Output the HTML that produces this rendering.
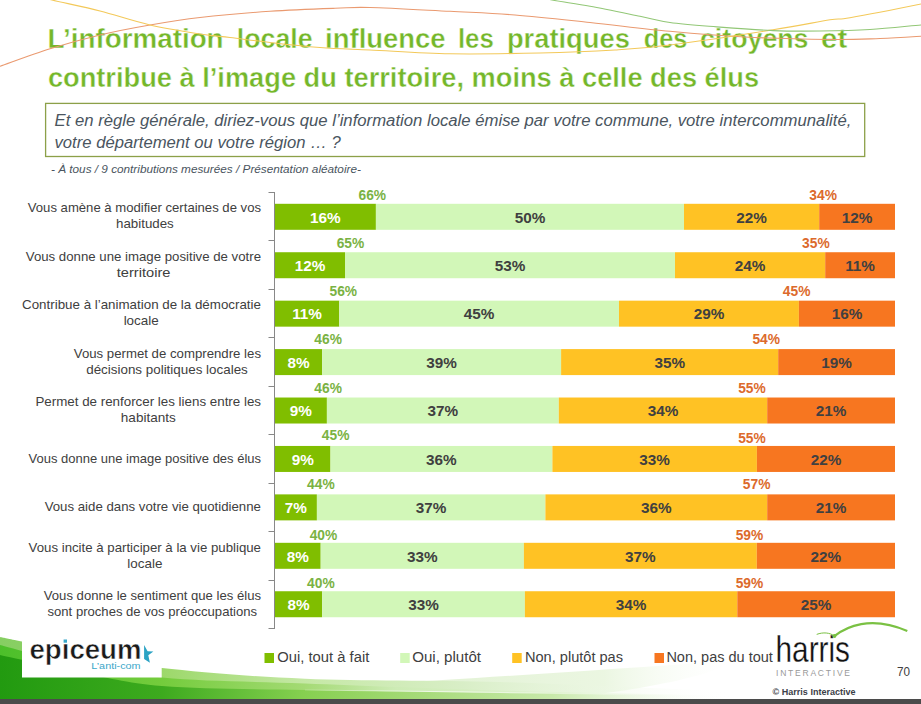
<!DOCTYPE html><html><head><meta charset="utf-8"><style>html,body{margin:0;padding:0;background:#fff;width:921px;height:704px;overflow:hidden}svg{position:absolute;left:0;top:0;font-family:"Liberation Sans",sans-serif}</style></head><body>
<svg width="921" height="704" viewBox="0 0 921 704">
<defs>
<linearGradient id="gtop" gradientUnits="userSpaceOnUse" x1="0" y1="0" x2="921" y2="0"><stop offset="0" stop-color="#86CE62"/><stop offset="0.176" stop-color="#9CD86A"/><stop offset="0.33" stop-color="#C5E8A5"/><stop offset="0.5" stop-color="#D8EEC6"/><stop offset="0.8" stop-color="#ffffff" stop-opacity="0"/></linearGradient>
<linearGradient id="gmid" gradientUnits="userSpaceOnUse" x1="0" y1="0" x2="921" y2="0"><stop offset="0" stop-color="#4CBF2A"/><stop offset="0.176" stop-color="#74CC3C"/><stop offset="0.33" stop-color="#A4DA74"/><stop offset="0.43" stop-color="#CDEBB5"/><stop offset="0.6" stop-color="#E0F2D0"/><stop offset="0.8" stop-color="#ffffff" stop-opacity="0"/></linearGradient>
<linearGradient id="gbase" gradientUnits="userSpaceOnUse" x1="0" y1="0" x2="921" y2="0"><stop offset="0" stop-color="#229A10"/><stop offset="0.176" stop-color="#3DAA1E"/><stop offset="0.33" stop-color="#86D050"/><stop offset="0.43" stop-color="#A0D870"/><stop offset="0.6" stop-color="#C8E9AA"/><stop offset="0.76" stop-color="#ffffff" stop-opacity="0"/></linearGradient>
<linearGradient id="gwedge" gradientUnits="userSpaceOnUse" x1="400" y1="0" x2="740" y2="0"><stop offset="0" stop-color="#DDF0CD" stop-opacity="0.9"/><stop offset="0.6" stop-color="#E6F4DA" stop-opacity="0.8"/><stop offset="1" stop-color="#ffffff" stop-opacity="0"/></linearGradient>
<linearGradient id="ghl" gradientUnits="userSpaceOnUse" x1="250" y1="0" x2="650" y2="0"><stop offset="0" stop-color="#ffffff" stop-opacity="0"/><stop offset="0.5" stop-color="#ffffff" stop-opacity="0.8"/><stop offset="1" stop-color="#ffffff" stop-opacity="0"/></linearGradient>
</defs>
<text x="47.5" y="48.1" font-size="28" font-weight="bold" fill="#74B72A" stroke="#fff" stroke-width="0.4" textLength="176.1" lengthAdjust="spacingAndGlyphs">L’information</text>
<text x="236.8" y="48.1" font-size="28" font-weight="bold" fill="#74B72A" stroke="#fff" stroke-width="0.4" textLength="75.8" lengthAdjust="spacingAndGlyphs">locale</text>
<text x="325.1" y="48.1" font-size="28" font-weight="bold" fill="#74B72A" stroke="#fff" stroke-width="0.4" textLength="120.5" lengthAdjust="spacingAndGlyphs">influence</text>
<text x="457.9" y="48.1" font-size="28" font-weight="bold" fill="#74B72A" stroke="#fff" stroke-width="0.4" textLength="35.9" lengthAdjust="spacingAndGlyphs">les</text>
<text x="506.9" y="48.1" font-size="28" font-weight="bold" fill="#74B72A" stroke="#fff" stroke-width="0.4" textLength="123.0" lengthAdjust="spacingAndGlyphs">pratiques</text>
<text x="643.8" y="48.1" font-size="28" font-weight="bold" fill="#74B72A" stroke="#fff" stroke-width="0.4" textLength="43.6" lengthAdjust="spacingAndGlyphs">des</text>
<text x="700.0" y="48.1" font-size="28" font-weight="bold" fill="#74B72A" stroke="#fff" stroke-width="0.4" textLength="108.5" lengthAdjust="spacingAndGlyphs">citoyens</text>
<text x="821.1" y="48.1" font-size="28" font-weight="bold" fill="#74B72A" stroke="#fff" stroke-width="0.4" textLength="26.1" lengthAdjust="spacingAndGlyphs">et</text>
<text x="47.9" y="86.5" font-size="28" font-weight="bold" fill="#74B72A" stroke="#fff" stroke-width="0.4" textLength="711.2" lengthAdjust="spacingAndGlyphs">contribue à l’image du territoire, moins à celle des élus</text>
<path d="M-10.0,70.0 C-8.3,69.4 -10.0,69.8 0.0,66.3 C10.0,62.8 33.3,54.0 50.0,48.8 C66.7,43.6 83.3,39.0 100.0,35.0 C116.7,31.0 133.3,27.9 150.0,25.0 C166.7,22.1 180.0,19.8 200.0,17.5 C220.0,15.2 247.5,12.8 270.0,11.3 C292.5,9.8 318.3,8.9 335.0,8.3 C351.7,7.7 350.8,7.0 370.0,7.5 C389.2,8.0 425.8,10.1 450.0,11.3 C474.2,12.6 491.7,13.1 515.0,15.0 C538.3,16.9 564.2,19.8 590.0,22.5 C615.8,25.2 644.2,28.9 670.0,31.3 C695.8,33.7 718.3,35.6 745.0,37.0 C771.7,38.4 807.5,39.2 830.0,39.5 C852.5,39.8 864.8,39.0 880.0,38.5 C895.2,38.0 911.8,36.8 921.0,36.2 C930.2,35.6 932.7,35.2 935.0,35.0" fill="none" stroke="#EA9A70" stroke-width="1.1"/>
<path d="M40.0,-4.0 C42.0,-3.3 42.0,-2.5 52.0,0.0 C62.0,2.5 83.7,6.8 100.0,11.0 C116.3,15.2 133.3,21.2 150.0,25.0 C166.7,28.8 186.7,31.9 200.0,34.0 C213.3,36.1 218.3,36.1 230.0,37.5 C241.7,38.9 255.0,40.8 270.0,42.5 C285.0,44.2 303.3,46.2 320.0,47.5 C336.7,48.8 348.3,49.0 370.0,50.0 C391.7,51.0 421.7,53.3 450.0,53.8 C478.3,54.3 512.5,53.6 540.0,53.0 C567.5,52.4 593.3,51.3 615.0,50.0 C636.7,48.7 643.7,48.4 670.0,45.0 C696.3,41.6 746.3,34.0 773.0,29.8 C799.7,25.6 817.2,21.8 830.0,19.8 C842.8,17.8 834.8,20.3 850.0,17.7 C865.2,15.1 906.8,6.9 921.0,4.0 C935.2,1.1 932.7,0.7 935.0,0.0" fill="none" stroke="#F3C95A" stroke-width="1.1"/>
<path d="M540.0,-4.0 C542.0,-3.3 543.7,-1.7 552.0,0.0 C560.3,1.7 575.3,3.6 590.0,6.3 C604.7,9.0 626.7,13.6 640.0,16.3 C653.3,19.0 657.2,20.7 670.0,22.5 C682.8,24.3 699.5,25.5 716.7,26.9 C733.9,28.2 755.8,29.9 773.0,30.6 C790.2,31.3 803.8,31.2 820.0,31.0 C836.2,30.8 853.2,30.5 870.0,29.5 C886.8,28.5 910.2,25.9 921.0,25.0 C931.8,24.1 932.7,24.2 935.0,24.0" fill="none" stroke="#92C776" stroke-width="1.1"/>
<rect x="45.6" y="103.4" width="819.1" height="53.1" fill="#fff" stroke="#8CA048" stroke-width="1.3"/>
<text x="54.5" y="126.4" font-size="15.6" font-style="italic" fill="#4A5560" textLength="796.9" lengthAdjust="spacingAndGlyphs">Et en règle générale, diriez-vous que l’information locale émise par votre commune, votre intercommunalité,</text>
<text x="54.5" y="148.0" font-size="15.6" font-style="italic" fill="#4A5560" textLength="286.2" lengthAdjust="spacingAndGlyphs">votre département ou votre région … ?</text>
<text x="51" y="172.9" font-size="11.7" font-style="italic" fill="#4A5560" textLength="309.9" lengthAdjust="spacingAndGlyphs">- À tous / 9 contributions mesurées / Présentation aléatoire-</text>
<path d="M274.5,192 V629" stroke="#888" stroke-width="1" fill="none"/>
<path d="M268.5,192.5 H274.5" stroke="#888" stroke-width="1" fill="none"/>
<path d="M268.5,240.5 H274.5" stroke="#888" stroke-width="1" fill="none"/>
<path d="M268.5,289.5 H274.5" stroke="#888" stroke-width="1" fill="none"/>
<path d="M268.5,337.5 H274.5" stroke="#888" stroke-width="1" fill="none"/>
<path d="M268.5,386.5 H274.5" stroke="#888" stroke-width="1" fill="none"/>
<path d="M268.5,434.5 H274.5" stroke="#888" stroke-width="1" fill="none"/>
<path d="M268.5,483.5 H274.5" stroke="#888" stroke-width="1" fill="none"/>
<path d="M268.5,531.5 H274.5" stroke="#888" stroke-width="1" fill="none"/>
<path d="M268.5,580.5 H274.5" stroke="#888" stroke-width="1" fill="none"/>
<path d="M268.5,628.5 H274.5" stroke="#888" stroke-width="1" fill="none"/>
<rect x="275.0" y="203.80" width="100.9" height="26" fill="#80BE00"/>
<rect x="375.9" y="203.80" width="308.1" height="26" fill="#D2F7B8"/>
<rect x="684.0" y="203.80" width="135.2" height="26" fill="#FFC224"/>
<rect x="819.2" y="203.80" width="75.8" height="26" fill="#F77620"/>
<text x="325.4" y="222.60" font-size="15.3" font-weight="bold" fill="#FFFFFF" text-anchor="middle">16%</text>
<text x="530.0" y="222.60" font-size="15.3" font-weight="bold" fill="#404040" text-anchor="middle">50%</text>
<text x="751.6" y="222.60" font-size="15.3" font-weight="bold" fill="#404040" text-anchor="middle">22%</text>
<text x="857.1" y="222.60" font-size="15.3" font-weight="bold" fill="#404040" text-anchor="middle">12%</text>
<rect x="275.0" y="252.23" width="70.0" height="26" fill="#80BE00"/>
<rect x="345.0" y="252.23" width="330.0" height="26" fill="#D2F7B8"/>
<rect x="675.0" y="252.23" width="150.2" height="26" fill="#FFC224"/>
<rect x="825.2" y="252.23" width="69.8" height="26" fill="#F77620"/>
<text x="310.0" y="271.03" font-size="15.3" font-weight="bold" fill="#FFFFFF" text-anchor="middle">12%</text>
<text x="510.0" y="271.03" font-size="15.3" font-weight="bold" fill="#404040" text-anchor="middle">53%</text>
<text x="750.1" y="271.03" font-size="15.3" font-weight="bold" fill="#404040" text-anchor="middle">24%</text>
<text x="860.1" y="271.03" font-size="15.3" font-weight="bold" fill="#404040" text-anchor="middle">11%</text>
<rect x="275.0" y="300.66" width="64.3" height="26" fill="#80BE00"/>
<rect x="339.3" y="300.66" width="279.7" height="26" fill="#D2F7B8"/>
<rect x="619.0" y="300.66" width="179.9" height="26" fill="#FFC224"/>
<rect x="798.9" y="300.66" width="96.1" height="26" fill="#F77620"/>
<text x="307.1" y="319.46" font-size="15.3" font-weight="bold" fill="#FFFFFF" text-anchor="middle">11%</text>
<text x="479.1" y="319.46" font-size="15.3" font-weight="bold" fill="#404040" text-anchor="middle">45%</text>
<text x="709.0" y="319.46" font-size="15.3" font-weight="bold" fill="#404040" text-anchor="middle">29%</text>
<text x="847.0" y="319.46" font-size="15.3" font-weight="bold" fill="#404040" text-anchor="middle">16%</text>
<rect x="275.0" y="349.09" width="47.2" height="26" fill="#80BE00"/>
<rect x="322.2" y="349.09" width="238.9" height="26" fill="#D2F7B8"/>
<rect x="561.1" y="349.09" width="217.1" height="26" fill="#FFC224"/>
<rect x="778.2" y="349.09" width="116.8" height="26" fill="#F77620"/>
<text x="298.6" y="367.89" font-size="15.3" font-weight="bold" fill="#FFFFFF" text-anchor="middle">8%</text>
<text x="441.6" y="367.89" font-size="15.3" font-weight="bold" fill="#404040" text-anchor="middle">39%</text>
<text x="669.7" y="367.89" font-size="15.3" font-weight="bold" fill="#404040" text-anchor="middle">35%</text>
<text x="836.6" y="367.89" font-size="15.3" font-weight="bold" fill="#404040" text-anchor="middle">19%</text>
<rect x="275.0" y="397.52" width="51.9" height="26" fill="#80BE00"/>
<rect x="326.9" y="397.52" width="231.9" height="26" fill="#D2F7B8"/>
<rect x="558.8" y="397.52" width="208.4" height="26" fill="#FFC224"/>
<rect x="767.2" y="397.52" width="127.8" height="26" fill="#F77620"/>
<text x="300.9" y="416.32" font-size="15.3" font-weight="bold" fill="#FFFFFF" text-anchor="middle">9%</text>
<text x="442.8" y="416.32" font-size="15.3" font-weight="bold" fill="#404040" text-anchor="middle">37%</text>
<text x="663.0" y="416.32" font-size="15.3" font-weight="bold" fill="#404040" text-anchor="middle">34%</text>
<text x="831.1" y="416.32" font-size="15.3" font-weight="bold" fill="#404040" text-anchor="middle">21%</text>
<rect x="275.0" y="445.95" width="55.5" height="26" fill="#80BE00"/>
<rect x="330.5" y="445.95" width="221.9" height="26" fill="#D2F7B8"/>
<rect x="552.4" y="445.95" width="204.5" height="26" fill="#FFC224"/>
<rect x="756.9" y="445.95" width="138.1" height="26" fill="#F77620"/>
<text x="302.8" y="464.75" font-size="15.3" font-weight="bold" fill="#FFFFFF" text-anchor="middle">9%</text>
<text x="441.4" y="464.75" font-size="15.3" font-weight="bold" fill="#404040" text-anchor="middle">36%</text>
<text x="654.6" y="464.75" font-size="15.3" font-weight="bold" fill="#404040" text-anchor="middle">33%</text>
<text x="826.0" y="464.75" font-size="15.3" font-weight="bold" fill="#404040" text-anchor="middle">22%</text>
<rect x="275.0" y="494.38" width="41.9" height="26" fill="#80BE00"/>
<rect x="316.9" y="494.38" width="228.5" height="26" fill="#D2F7B8"/>
<rect x="545.4" y="494.38" width="221.8" height="26" fill="#FFC224"/>
<rect x="767.2" y="494.38" width="127.8" height="26" fill="#F77620"/>
<text x="295.9" y="513.18" font-size="15.3" font-weight="bold" fill="#FFFFFF" text-anchor="middle">7%</text>
<text x="431.1" y="513.18" font-size="15.3" font-weight="bold" fill="#404040" text-anchor="middle">37%</text>
<text x="656.3" y="513.18" font-size="15.3" font-weight="bold" fill="#404040" text-anchor="middle">36%</text>
<text x="831.1" y="513.18" font-size="15.3" font-weight="bold" fill="#404040" text-anchor="middle">21%</text>
<rect x="275.0" y="542.81" width="45.7" height="26" fill="#80BE00"/>
<rect x="320.7" y="542.81" width="203.2" height="26" fill="#D2F7B8"/>
<rect x="523.9" y="542.81" width="232.9" height="26" fill="#FFC224"/>
<rect x="756.8" y="542.81" width="138.2" height="26" fill="#F77620"/>
<text x="297.9" y="561.61" font-size="15.3" font-weight="bold" fill="#FFFFFF" text-anchor="middle">8%</text>
<text x="422.3" y="561.61" font-size="15.3" font-weight="bold" fill="#404040" text-anchor="middle">33%</text>
<text x="640.3" y="561.61" font-size="15.3" font-weight="bold" fill="#404040" text-anchor="middle">37%</text>
<text x="825.9" y="561.61" font-size="15.3" font-weight="bold" fill="#404040" text-anchor="middle">22%</text>
<rect x="275.0" y="591.24" width="47.2" height="26" fill="#80BE00"/>
<rect x="322.2" y="591.24" width="202.7" height="26" fill="#D2F7B8"/>
<rect x="524.9" y="591.24" width="212.4" height="26" fill="#FFC224"/>
<rect x="737.3" y="591.24" width="157.7" height="26" fill="#F77620"/>
<text x="298.6" y="610.04" font-size="15.3" font-weight="bold" fill="#FFFFFF" text-anchor="middle">8%</text>
<text x="423.5" y="610.04" font-size="15.3" font-weight="bold" fill="#404040" text-anchor="middle">33%</text>
<text x="631.1" y="610.04" font-size="15.3" font-weight="bold" fill="#404040" text-anchor="middle">34%</text>
<text x="816.1" y="610.04" font-size="15.3" font-weight="bold" fill="#404040" text-anchor="middle">25%</text>
<text x="358.5" y="200.10" font-size="14" font-weight="bold" fill="#7AB243" textLength="27.6" lengthAdjust="spacingAndGlyphs">66%</text>
<text x="336.7" y="248.10" font-size="14" font-weight="bold" fill="#7AB243" textLength="27.6" lengthAdjust="spacingAndGlyphs">65%</text>
<text x="329.5" y="296.10" font-size="14" font-weight="bold" fill="#7AB243" textLength="27.6" lengthAdjust="spacingAndGlyphs">56%</text>
<text x="314.3" y="344.30" font-size="14" font-weight="bold" fill="#7AB243" textLength="27.6" lengthAdjust="spacingAndGlyphs">46%</text>
<text x="314.3" y="392.60" font-size="14" font-weight="bold" fill="#7AB243" textLength="27.6" lengthAdjust="spacingAndGlyphs">46%</text>
<text x="321.8" y="440.40" font-size="14" font-weight="bold" fill="#7AB243" textLength="27.6" lengthAdjust="spacingAndGlyphs">45%</text>
<text x="307.1" y="488.75" font-size="14" font-weight="bold" fill="#7AB243" textLength="27.6" lengthAdjust="spacingAndGlyphs">44%</text>
<text x="309.7" y="540.45" font-size="14" font-weight="bold" fill="#7AB243" textLength="27.6" lengthAdjust="spacingAndGlyphs">40%</text>
<text x="307.1" y="588.40" font-size="14" font-weight="bold" fill="#7AB243" textLength="27.6" lengthAdjust="spacingAndGlyphs">40%</text>
<text x="809.3" y="200.10" font-size="14" font-weight="bold" fill="#DC6A2C" textLength="27.6" lengthAdjust="spacingAndGlyphs">34%</text>
<text x="802.1" y="248.10" font-size="14" font-weight="bold" fill="#DC6A2C" textLength="27.6" lengthAdjust="spacingAndGlyphs">35%</text>
<text x="782.8" y="296.10" font-size="14" font-weight="bold" fill="#DC6A2C" textLength="27.6" lengthAdjust="spacingAndGlyphs">45%</text>
<text x="752.4" y="344.30" font-size="14" font-weight="bold" fill="#DC6A2C" textLength="27.6" lengthAdjust="spacingAndGlyphs">54%</text>
<text x="738.2" y="392.60" font-size="14" font-weight="bold" fill="#DC6A2C" textLength="27.6" lengthAdjust="spacingAndGlyphs">55%</text>
<text x="738.2" y="443.10" font-size="14" font-weight="bold" fill="#DC6A2C" textLength="27.6" lengthAdjust="spacingAndGlyphs">55%</text>
<text x="742.8" y="488.75" font-size="14" font-weight="bold" fill="#DC6A2C" textLength="27.6" lengthAdjust="spacingAndGlyphs">57%</text>
<text x="735.7" y="540.10" font-size="14" font-weight="bold" fill="#DC6A2C" textLength="27.6" lengthAdjust="spacingAndGlyphs">59%</text>
<text x="735.7" y="588.10" font-size="14" font-weight="bold" fill="#DC6A2C" textLength="27.6" lengthAdjust="spacingAndGlyphs">59%</text>
<text x="144.4" y="211.9" font-size="13" fill="#404040" text-anchor="middle" textLength="233.2" lengthAdjust="spacingAndGlyphs">Vous amène à modifier certaines de vos</text>
<text x="144.9" y="228.4" font-size="13" fill="#404040" text-anchor="middle" textLength="57.7" lengthAdjust="spacingAndGlyphs">habitudes</text>
<text x="143.4" y="260.8" font-size="13" fill="#404040" text-anchor="middle" textLength="235.2" lengthAdjust="spacingAndGlyphs">Vous donne une image positive de votre</text>
<text x="143.6" y="277.3" font-size="13" fill="#404040" text-anchor="middle" textLength="53.7" lengthAdjust="spacingAndGlyphs">territoire</text>
<text x="141.5" y="308.7" font-size="13" fill="#404040" text-anchor="middle" textLength="238.9" lengthAdjust="spacingAndGlyphs">Contribue à l’animation de la démocratie</text>
<text x="141.2" y="325.2" font-size="13" fill="#404040" text-anchor="middle" textLength="35.1" lengthAdjust="spacingAndGlyphs">locale</text>
<text x="167.4" y="357.6" font-size="13" fill="#404040" text-anchor="middle" textLength="187.2" lengthAdjust="spacingAndGlyphs">Vous permet de comprendre les</text>
<text x="167.0" y="374.1" font-size="13" fill="#404040" text-anchor="middle" textLength="161.6" lengthAdjust="spacingAndGlyphs">décisions  politiques locales</text>
<text x="148.2" y="405.6" font-size="13" fill="#404040" text-anchor="middle" textLength="225.6" lengthAdjust="spacingAndGlyphs">Permet de  renforcer les liens entre les</text>
<text x="148.3" y="422.1" font-size="13" fill="#404040" text-anchor="middle" textLength="54.9" lengthAdjust="spacingAndGlyphs">habitants</text>
<text x="144.8" y="462.7" font-size="13" fill="#404040" text-anchor="middle" textLength="232.4" lengthAdjust="spacingAndGlyphs">Vous donne une image positive des élus</text>
<text x="152.8" y="511.3" font-size="13" fill="#404040" text-anchor="middle" textLength="216.3" lengthAdjust="spacingAndGlyphs">Vous aide dans votre vie quotidienne</text>
<text x="144.8" y="551.5" font-size="13" fill="#404040" text-anchor="middle" textLength="232.4" lengthAdjust="spacingAndGlyphs">Vous incite à participer à la vie publique</text>
<text x="144.9" y="568.0" font-size="13" fill="#404040" text-anchor="middle" textLength="35.1" lengthAdjust="spacingAndGlyphs">locale</text>
<text x="152.4" y="599.8" font-size="13" fill="#404040" text-anchor="middle" textLength="217.2" lengthAdjust="spacingAndGlyphs">Vous donne le sentiment que les élus</text>
<text x="152.3" y="616.2" font-size="13" fill="#404040" text-anchor="middle" textLength="209.6" lengthAdjust="spacingAndGlyphs">sont proches de vos préoccupations</text>
<path d="M380,684 C480,678 600,670 730,661 C720,675 640,690 560,699 L380,699 Z" fill="url(#gwedge)"/>
<path d="M-5.0,636.0 C-4.2,636.2 -4.5,636.1 0.0,637.0 C4.5,637.9 7.0,638.5 22.0,641.5 C37.0,644.5 66.7,650.6 90.0,655.0 C113.3,659.4 126.2,664.0 162.0,668.0 C197.8,672.0 248.7,676.4 305.0,678.7 C361.3,681.0 434.2,680.1 500.0,682.0 C565.8,683.9 629.8,687.2 700.0,690.0 C770.2,692.8 884.2,697.5 921.0,699.0 L921,704 L-5,704 Z" fill="url(#gtop)"/>
<path d="M-5.0,644.0 C-4.2,644.2 -10.8,642.3 0.0,645.0 C10.8,647.7 33.0,654.6 60.0,660.0 C87.0,665.4 121.2,673.6 162.0,677.5 C202.8,681.4 248.7,681.3 305.0,683.5 C361.3,685.7 434.2,688.6 500.0,690.5 C565.8,692.4 629.8,693.6 700.0,695.0 C770.2,696.4 884.2,698.3 921.0,699.0 L921,704 L-5,704 Z" fill="url(#gmid)"/>
<path d="M-5.0,654.0 C-4.2,654.2 -14.2,652.0 0.0,655.0 C14.2,658.0 53.0,666.8 80.0,672.0 C107.0,677.2 124.5,683.0 162.0,686.0 C199.5,689.0 248.7,688.9 305.0,690.0 C361.3,691.1 434.2,691.5 500.0,692.5 C565.8,693.5 629.8,694.9 700.0,696.0 C770.2,697.1 884.2,698.5 921.0,699.0 L921,704 L-5,704 Z" fill="url(#gbase)"/>
<path d="M305.0,690.0 C337.5,690.4 434.2,691.5 500.0,692.5 C565.8,693.5 666.7,695.4 700.0,696.0" fill="none" stroke="url(#ghl)" stroke-width="1.2"/>
<rect x="0" y="699" width="921" height="5" fill="#4B4B4B"/>
<rect x="22" y="639.5" width="139.7" height="38" fill="#fff"/>
<text x="29.5" y="659.2" font-size="27" font-weight="bold" fill="#1A1A1A" textLength="112" lengthAdjust="spacingAndGlyphs" stroke="#fff" stroke-width="0.5">ep&#x131;ceum</text>
<rect x="63.6" y="639.5" width="3.4" height="3.2" fill="#3BA7C9"/>
<path d="M144.1,645.1 L147.6,651.2 L153.4,651.5 L148.3,655.2 L149.9,662.7 L144.1,658.9 Z" fill="#2BA3C4"/>
<text x="91.3" y="669.4" font-size="9" fill="#3BA7C9" textLength="49.3" lengthAdjust="spacingAndGlyphs">L’anti-com</text>
<rect x="264.5" y="653" width="9.5" height="10" fill="#80BE00"/>
<text x="277.3" y="661.8" font-size="14" fill="#404040" textLength="92.0" lengthAdjust="spacingAndGlyphs">Oui, tout à fait</text>
<rect x="400.2" y="653" width="9.5" height="10" fill="#D2F7B8"/>
<text x="412.2" y="661.8" font-size="14" fill="#404040" textLength="68.9" lengthAdjust="spacingAndGlyphs">Oui, plutôt</text>
<rect x="512.2" y="653" width="9.5" height="10" fill="#FFC224"/>
<text x="525.0" y="661.8" font-size="14" fill="#404040" textLength="98.0" lengthAdjust="spacingAndGlyphs">Non, plutôt pas</text>
<rect x="654.5" y="653" width="9.5" height="10" fill="#F77620"/>
<text x="666.4" y="661.8" font-size="14" fill="#404040" textLength="106.5" lengthAdjust="spacingAndGlyphs">Non, pas du tout</text>
<text x="775.5" y="662" font-size="37.5" fill="#111" stroke="#fff" stroke-width="0.3" textLength="74.5" lengthAdjust="spacingAndGlyphs">harris</text>
<text x="776" y="675.6" font-size="8.5" fill="#999" textLength="74" lengthAdjust="spacing">INTERACTIVE</text>
<path d="M816.7,634.4 C823,632 830,632.5 834.4,636.1" fill="none" stroke="#7AC143" stroke-width="1"/><path d="M834.4,636.1 C846,627 870,615 907.3,631" fill="none" stroke="#7AC143" stroke-width="2.2"/>
<circle cx="834.4" cy="636.1" r="2" fill="#7AC143"/>
<text x="897" y="676" font-size="12.5" fill="#404040" textLength="13" lengthAdjust="spacingAndGlyphs">70</text>
<text x="772.6" y="695.4" font-size="9.8" font-weight="bold" fill="#3C4048" textLength="83" lengthAdjust="spacingAndGlyphs">© Harris Interactive</text>
</svg></body></html>
